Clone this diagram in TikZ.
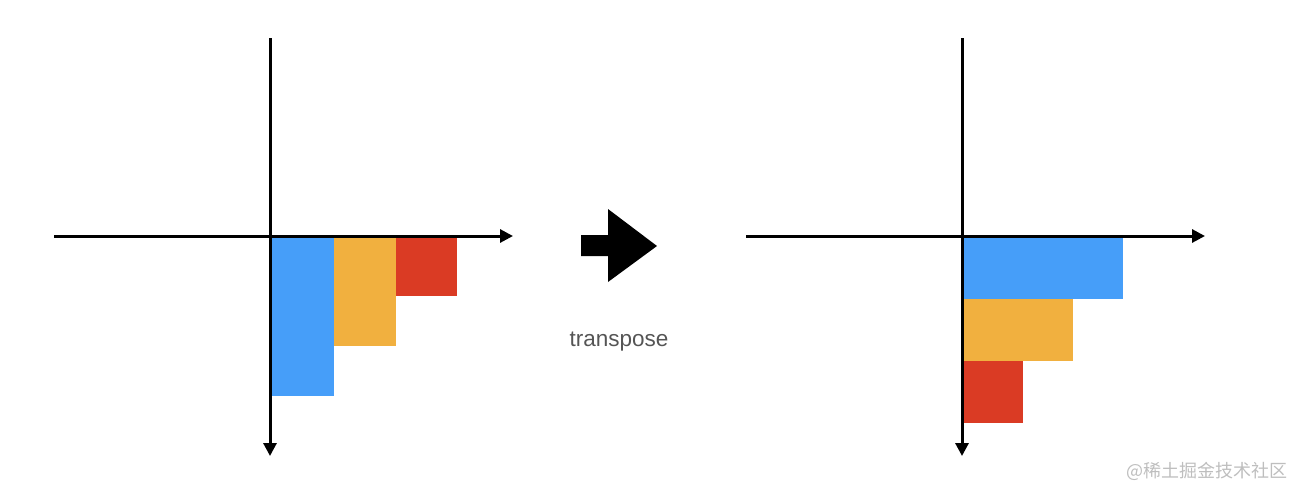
\documentclass[tikz,border=0pt]{standalone}
\usepackage{fontspec}
\setmainfont{Liberation Sans}
\newfontfamily\cjkfont{Noto Sans CJK SC}
\usetikzlibrary{arrows.meta}
\definecolor{barBlue}{RGB}{70,158,249}
\definecolor{barOrange}{RGB}{241,176,63}
\definecolor{barRed}{RGB}{218,59,36}
\definecolor{labelGray}{RGB}{85,85,85}
\definecolor{markGray}{RGB}{190,190,190}
\begin{document}
\begin{tikzpicture}[x=1pt, y=-1pt, >={Triangle[length=13pt,width=13pt]}]
        \tikzset{
           axis/.style={
                        ->,
                        line width=3pt,
                        draw=black
                       },
           bar/.style={
                        rectangle,
                        draw=none
                       },
           bigArrow/.style={
                        fill=black,
                        draw=none
                       },
           caption/.style={
                        text=labelGray,
                        font=\fontsize{22.5}{26}\selectfont
                       },
           watermark/.style={
                        text=markGray,
                        font=\cjkfont\fontsize{18}{21}\selectfont
                       },
                 };
        \useasboundingbox (0,0) rectangle (1304,499);
    %--------------------
        % left: columns
        \fill[bar, barBlue]   (271,236) rectangle (334,396);
        \fill[bar, barOrange] (334,236) rectangle (396,346);
        \fill[bar, barRed]    (396,236) rectangle (457,296);

        \coordinate (xStartL) at (54,236);
        \coordinate (xEndL)   at (513,236);
        \coordinate (yStartL) at (270,38);
        \coordinate (yEndL)   at (270,456);
        \draw[axis] (xStartL) -- (xEndL);
        \draw[axis] (yStartL) -- (yEndL);
    %--------------------
        % middle: arrow and caption
        \fill[bigArrow] (581,235) -- (608,235) -- (608,209) -- (657,246)
                        -- (608,282) -- (608,256) -- (581,256) -- cycle;
        \node[caption] (transposeLabel) at (619,342) {transpose};
    %--------------------
        % right: rows
        \fill[bar, barBlue]   (962,236) rectangle (1123,299);
        \fill[bar, barOrange] (962,299) rectangle (1073,361);
        \fill[bar, barRed]    (962,361) rectangle (1023,423);

        \coordinate (xStartR) at (746,236);
        \coordinate (xEndR)   at (1205,236);
        \coordinate (yStartR) at (962,38);
        \coordinate (yEndR)   at (962,456);
        \draw[axis] (xStartR) -- (xEndR);
        \draw[axis] (yStartR) -- (yEndR);
    %--------------------
        \node[watermark, anchor=east] (siteMark) at (1291,471) {@稀土掘金技术社区};
\end{tikzpicture}
\end{document}
